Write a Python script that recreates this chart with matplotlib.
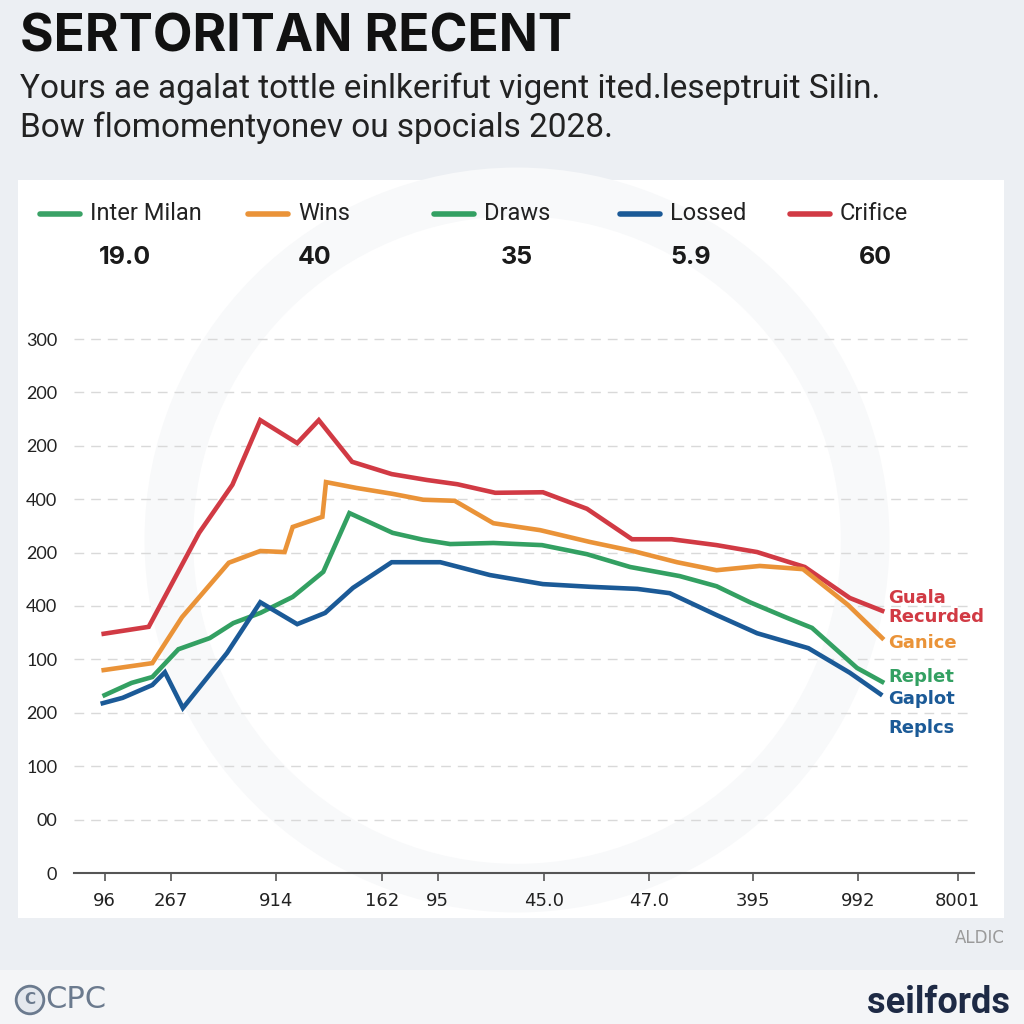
import matplotlib
matplotlib.use("Agg")
import matplotlib.pyplot as plt
from matplotlib.lines import Line2D
from matplotlib.patches import Rectangle, Circle

# --- data ---
red_x = [3.3, 8.3, 13.9, 17.6, 20.7, 24.8, 27.2, 30.9, 35.3, 39.2, 42.6, 46.8, 52.1,
         57.0, 62.0, 66.4, 71.4, 75.9, 81.2, 86.2, 89.8]
red_y = [4.48, 4.61, 6.37, 7.27, 8.48, 8.05, 8.48, 7.70, 7.47, 7.36, 7.28, 7.12, 7.13,
         6.82, 6.25, 6.25, 6.14, 6.01, 5.73, 5.15, 4.91]

orange_x = [3.3, 8.7, 12.0, 17.2, 20.7, 23.4, 24.3, 27.6, 28.0, 31.4, 35.4, 38.8, 42.3,
            46.6, 51.8, 57.3, 62.1, 67.0, 71.4, 76.2, 81.0, 86.0, 89.8]
orange_y = [3.80, 3.93, 4.79, 5.81, 6.03, 6.01, 6.48, 6.67, 7.32, 7.21, 7.10, 6.99, 6.97,
            6.55, 6.42, 6.20, 6.03, 5.82, 5.67, 5.75, 5.69, 5.02, 4.40]

green_x = [3.4, 6.4, 8.7, 11.6, 15.1, 17.7, 20.7, 24.3, 27.7, 30.6, 35.4, 38.8, 41.8,
           46.6, 52.0, 57.0, 61.8, 67.3, 71.4, 75.1, 79.2, 82.0, 87.0, 89.8]
green_y = [3.33, 3.56, 3.67, 4.19, 4.40, 4.68, 4.87, 5.17, 5.64, 6.74, 6.37, 6.24, 6.16,
           6.18, 6.14, 5.97, 5.73, 5.56, 5.37, 5.07, 4.78, 4.59, 3.84, 3.58]

blue_x = [3.2, 5.4, 8.7, 10.1, 12.1, 17.0, 20.7, 24.8, 27.9, 31.0, 35.3, 40.7, 46.2,
          52.1, 57.3, 62.6, 66.2, 71.4, 75.9, 81.6, 86.2, 89.6]
blue_y = [3.18, 3.28, 3.52, 3.76, 3.09, 4.12, 5.07, 4.66, 4.87, 5.34, 5.82, 5.82, 5.58,
          5.41, 5.36, 5.32, 5.24, 4.83, 4.49, 4.21, 3.75, 3.35]

y_ticks = [0, 1, 2, 3, 4, 5, 6, 7, 8, 9, 10]
y_labels = ["0", "00", "100", "200", "100", "400", "200", "400", "200", "200", "300"]
x_ticks = [3.4, 10.8, 22.4, 34.2, 40.4, 52.2, 63.9, 75.4, 87.1, 98.2]
x_labels = ["96", "267", "914", "162", "95", "45.0", "47.0", "395", "992", "8001"]

legend_names = ["Inter Milan", "Wins", "Draws", "Lossed", "Crifice"]
legend_values = ["19.0", "40", "35", "5.9", "60"]

end_labels = ["Guala", "Recurded", "Ganice", "Replet", "Gaplot", "Replcs"]

RED = "#d13a44"
ORANGE = "#ea9338"
GREEN = "#33a062"
BLUE = "#1b5a97"
legend_colors = ["#3aa266", ORANGE, GREEN, BLUE, RED]
end_colors = [RED, RED, ORANGE, GREEN, BLUE, BLUE]

NARROW = ["Liberation Sans Narrow", "DejaVu Sans"]

fig = plt.figure(figsize=(10.24, 10.24), dpi=100)
fig.patch.set_facecolor("#eceff3")

def fx(px):
    return px / 1024

def fy(py):
    return 1 - py / 1024

# white card + faint watermark ring
fig.patches.append(Rectangle((fx(18), fy(918)), fx(986), (918 - 180) / 1024,
                             transform=fig.transFigure, facecolor="white",
                             edgecolor="none", zorder=0))
fig.patches.append(Rectangle((0, 0), 1, fy(970), transform=fig.transFigure,
                             facecolor="#f4f5f7", edgecolor="none", zorder=0))
fig.patches.append(Circle((fx(517), fy(540)), 0.34, transform=fig.transFigure,
                          facecolor="none", edgecolor="#f8f9fa", linewidth=35, zorder=0.5))

# header
fig.text(fx(20), fy(38), "SERTORITAN RECENT", fontsize=37, fontweight="bold",
         family=["Inter", "DejaVu Sans"], color="#111111", va="center")
fig.text(fx(20), fy(89), "Yours a\u0435 agalat tottle einlkerifut vigent ited.leseptruit Silin.",
         fontsize=24, family=["Roboto", "DejaVu Sans"], color="#222222", va="center")
fig.text(fx(20), fy(128), "Bow flomomentyonev ou spocials 2028.",
         fontsize=24, family=["Roboto", "DejaVu Sans"], color="#222222", va="center")

# legend row
legend_line_x = [40, 248, 434, 620, 790]
legend_value_x = [125, 315, 517, 691, 875]
for name, value, col, lx, vx in zip(legend_names, legend_values, legend_colors,
                                     legend_line_x, legend_value_x):
    fig.add_artist(Line2D([fx(lx), fx(lx + 40)], [fy(214), fy(214)], color=col,
                          linewidth=4, solid_capstyle="round", transform=fig.transFigure))
    fig.text(fx(lx + 50), fy(214), name, fontsize=17, family=["Roboto", "DejaVu Sans"],
             color="#222222", va="center")
    fig.text(fx(vx), fy(258), value, fontsize=18, fontweight="bold",
             family=["Inter", "DejaVu Sans"], color="#1a1a1a", va="center", ha="center")

# main axes
ax = fig.add_axes([fx(74), fy(873), 900 / 1024, 10.3 * 53.4 / 1024])
ax.set_zorder(3)
ax.set_facecolor("none")
ax.set_xlim(0, 100)
ax.set_ylim(0, 10.3)

for xs, ys, col in [(red_x, red_y, RED), (orange_x, orange_y, ORANGE),
                    (green_x, green_y, GREEN), (blue_x, blue_y, BLUE)]:
    ax.plot(xs, ys, color=col, linewidth=3.3, solid_joinstyle="miter", zorder=3)

ax.set_yticks(y_ticks)
ax.set_yticklabels(y_labels)
ax.set_xticks(x_ticks)
ax.set_xticklabels(x_labels, family=NARROW)
ax.tick_params(axis="y", length=0, pad=12, labelsize=13, labelcolor="#222222")
ax.tick_params(axis="x", length=6, width=1.2, color="#555555", pad=8, labelsize=13,
               labelcolor="#222222")
for t in ax.get_yticklabels():
    t.set_family(["Lato", "DejaVu Sans"])

for y in y_ticks[1:]:
    ax.axhline(y, color="#d9d9d9", linewidth=1, linestyle=(0, (7, 5)), zorder=1)

for s in ["top", "right", "left"]:
    ax.spines[s].set_visible(False)
ax.spines["bottom"].set_color("#555555")
ax.spines["bottom"].set_linewidth(1.5)

# end-of-line labels
end_py = [598, 617, 643, 677, 699, 728]
for lab, col, py in zip(end_labels, end_colors, end_py):
    fig.text(fx(888), fy(py), lab, fontsize=13, fontweight="bold", family=NARROW,
             color=col, va="center")

# footer
fig.text(fx(1005), fy(938), "ALDIC", fontsize=12, family=NARROW, color="#9a9a9a",
         ha="right", va="center")
fig.patches.append(Circle((fx(30), fy(1000)), 0.0135, transform=fig.transFigure,
                          facecolor="#e4e8ee", edgecolor="#6b7a8e", linewidth=2, zorder=2))
fig.text(fx(30), fy(1000), "C", fontsize=11, fontweight="bold", color="#6b7a8e",
         ha="center", va="center")
fig.text(fx(45), fy(1000), "CPC", fontsize=22, family=NARROW, color="#6b7a8e",
         va="center")
fig.text(fx(1010), fy(1003), "seilfords", fontsize=26, fontweight="bold",
         family=["Roboto", "DejaVu Sans"], color="#1e2a45", ha="right", va="center")

fig.savefig("out.png", dpi=100, facecolor=fig.get_facecolor())
